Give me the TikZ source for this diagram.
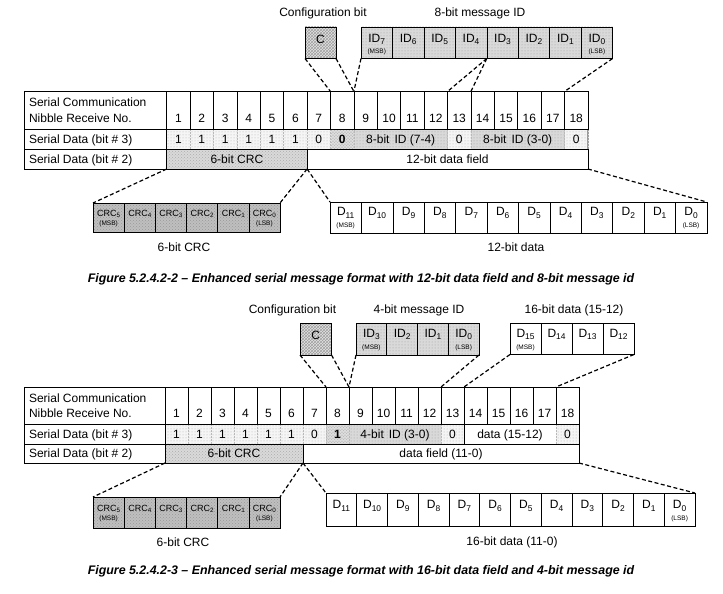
\documentclass[tikz,border=0pt]{standalone}
\usepackage{fontspec}
\setmainfont{Liberation Sans}
\usetikzlibrary{patterns}
\newcommand{\lowidx}[1]{\raisebox{-0.35ex}{\scalebox{0.7}{#1}}}
\begin{document}
\begin{tikzpicture}[x=1pt,y=-1pt,
  box/.style={draw, line width=0.6pt, inner sep=0pt, outer sep=0pt, anchor=north west},
  pbox/.style={draw=gray!55, line width=0.5pt, densely dotted, inner sep=0pt, outer sep=0pt, anchor=north west},
  lite/.style={preaction={fill=gray!8}, pattern=dots, pattern color=gray!60},
  idpat/.style={preaction={fill=gray!30}, pattern=dots, pattern color=gray!75},
  crcbox/.style={preaction={fill=gray!50}, pattern=crosshatch dots, pattern color=gray!80},
  crcrow/.style={preaction={fill=gray!30}, pattern=crosshatch dots, pattern color=gray!65},
  cpat/.style={preaction={fill=gray!22}, pattern=crosshatch, pattern color=gray!75},
  dline/.style={dash pattern=on 4pt off 2.5pt, line width=1.2pt},
  txt/.style={font=\fontsize{12}{15}\selectfont, inner sep=0pt, outer sep=0pt},
  tc/.style={text height=8.6pt, text depth=0pt},
  crct/.style={font=\fontsize{9}{10}\selectfont, inner sep=0pt},
  sm/.style={font=\fontsize{6.5}{7}\selectfont, inner sep=0pt},
  captxt/.style={font=\fontsize{12.4}{14}\selectfont\bfseries\itshape, inner sep=0pt},
]
\fill[white] (0,0) rectangle (723,594);
\useasboundingbox (0,0) rectangle (723,594);

%%%%%%%%%%%%%%%%%%%% FIGURE A %%%%%%%%%%%%%%%%%%%%
% top labels
\node[txt] (aLblC) at (323,13) {Configuration bit};
\node[txt] (aLblID) at (480,13) {8-bit message ID};
% top boxes
\node[box, cpat, minimum width=31pt, minimum height=31.5pt] (aC) at (305,27) {};
\node[txt, anchor=base] (aCt) at ([yshift=-0.3pt]aC.center) {C};
\foreach \n [count=\k from 0] in {7,6,5,4,3,2,1,0}{
  \node[box, idpat, minimum width=31.45pt, minimum height=31.5pt] (aID\n) at ({361+\k*31.45},27) {};
  \node[txt, anchor=base] (aIDt\n) at ([yshift=0.7pt]aID\n.center) {ID\lowidx{\n}};
}
\node[sm, anchor=base] (aMSBi) at ([yshift=-10.3pt]aID7.center) {(MSB)};
\node[sm, anchor=base] (aLSBi) at ([yshift=-10.3pt]aID0.center) {(LSB)};

% row 2 cells
\foreach \i/\v in {1/1,2/1,3/1,4/1,5/1,6/1,7/0}
  \node[pbox, lite, txt, tc, minimum width=23.4pt, minimum height=20pt] (aS\i) at ({166.7+(\i-1)*23.4},129.5) {\v};
\node[pbox, cpat, txt, tc, minimum width=23.4pt, minimum height=20pt] (aS8) at ({166.7+7*23.4},129.5) {\textbf{0}};
\node[pbox, idpat, txt, tc, minimum width=93.6pt, minimum height=20pt] (aS9) at ({166.7+8*23.4},129.5) {8-bit\hspace{5pt}ID (7-4)};
\node[pbox, lite, txt, tc, minimum width=23.4pt, minimum height=20pt] (aS13) at ({166.7+12*23.4},129.5) {0};
\node[pbox, idpat, txt, tc, minimum width=93.6pt, minimum height=20pt] (aS14) at ({166.7+13*23.4},129.5) {8-bit\hspace{5pt}ID (3-0)};
\node[pbox, lite, txt, tc, minimum width=23.4pt, minimum height=20pt] (aS18) at ({166.7+17*23.4},129.5) {0};
% header
\node[box, minimum width=142.7pt, minimum height=38pt] (aL1) at (24,91.5) {};
\node[box, minimum width=142.7pt, minimum height=20pt] (aL2) at (24,129.5) {};
\node[box, minimum width=142.7pt, minimum height=19.5pt] (aL3) at (24,149.5) {};
\foreach \i in {1,...,18}
  \node[box, minimum width=23.4pt, minimum height=38pt] (aH\i) at ({166.7+(\i-1)*23.4},91.5) {};
\foreach \i in {1,...,18}
  \node[txt, tc, anchor=base] (aN\i) at ([yshift=7.2pt]aH\i.south) {\i};
\node[txt, anchor=base west] (aT1) at ([xshift=5pt,yshift=-15.3pt]aL1.north west) {Serial Communication};
\node[txt, anchor=base west] (aT2) at ([xshift=5pt,yshift=7.2pt]aL1.south west) {Nibble Receive No.};
\node[txt, tc, anchor=west] (aT3) at ([xshift=5pt]aL2.west) {Serial Data (bit \# 3)};
\node[txt, tc, anchor=west] (aT4) at ([xshift=5pt]aL3.west) {Serial Data (bit \# 2)};
% row 3
\node[box, crcrow, txt, tc, minimum width=140.4pt, minimum height=19.5pt] (aR3c) at (166.7,149.5) {6-bit CRC};
\node[box, txt, tc, minimum width=280.8pt, minimum height=19.5pt] (aR3d) at ({166.7+6*23.4},149.5) {12-bit data field};
\draw[line width=0.6pt] (aH18.south east) -- (aR3d.north east);

% bottom boxes
\foreach \n [count=\k from 0] in {5,4,3,2,1,0}{
  \node[box, crcbox, minimum width=31.17pt, minimum height=29pt] (aCRC\n) at ({93+\k*31.17},203) {};
  \node[crct, anchor=base] (aCRCt\n) at ([yshift=1.3pt]aCRC\n.center) {CRC\lowidx{\n}};
}
\node[sm, anchor=base] (aMSBc) at ([yshift=-8.3pt]aCRC5.center) {(MSB)};
\node[sm, anchor=base] (aLSBc) at ([yshift=-8.3pt]aCRC0.center) {(LSB)};
\foreach \n [count=\k from 0] in {11,10,9,8,7,6,5,4,3,2,1,0}{
  \node[box, minimum width=31.4pt, minimum height=31pt] (aD\n) at ({330+\k*31.4},202) {};
  \node[txt, anchor=base] (aDt\n) at ([yshift=1.7pt]aD\n.center) {D\lowidx{\n}};
}
\node[sm, anchor=base] (aMSBd) at ([yshift=-10.3pt]aD11.center) {(MSB)};
\node[sm, anchor=base] (aLSBd) at ([yshift=-10.3pt]aD0.center) {(LSB)};
\node[txt] (aLblCRC) at (184,247) {6-bit CRC};
\node[txt] (aLblD) at (516,247) {12-bit data};
\node[captxt] (aCap) at (361,279) {Figure 5.2.4.2-2 – Enhanced serial message format with 12-bit data field and 8-bit message id};

% connectors
\draw[dline] (aC.south west) -- (aH8.north west);
\draw[dline] (aC.south east) -- (aH9.north west);
\draw[dline] (aID7.south west) -- (aH9.north west);
\draw[dline] (aID4.south east) -- (aH13.north west);
\draw[dline] (aID3.south west) -- (aH14.north west);
\draw[dline] (aID0.south east) -- (aH18.north west);
\draw[dline] (aR3c.south west) -- (aCRC5.north west);
\draw[dline] (aR3c.south east) -- (aCRC0.north east);
\draw[dline] (aR3c.south east) -- (aD11.north west);
\draw[dline] (aR3d.south east) -- (aD0.north east);

%%%%%%%%%%%%%%%%%%%% FIGURE B %%%%%%%%%%%%%%%%%%%%
\node[txt] (bLblC) at (292.5,310) {Configuration bit};
\node[txt] (bLblID) at (419,310) {4-bit message ID};
\node[txt] (bLblD) at (574,310) {16-bit data (15-12)};
\node[box, cpat, minimum width=31.5pt, minimum height=32pt] (bC) at (300,323) {};
\node[txt, anchor=base] (bCt) at ([yshift=-0.3pt]bC.center) {C};
\foreach \n [count=\k from 0] in {3,2,1,0}{
  \node[box, idpat, minimum width=30.75pt, minimum height=32pt] (bID\n) at ({356+\k*30.75},323) {};
  \node[txt, anchor=base] (bIDt\n) at ([yshift=1.7pt]bID\n.center) {ID\lowidx{\n}};
}
\node[sm, anchor=base] (bMSBi) at ([yshift=-10.3pt]bID3.center) {(MSB)};
\node[sm, anchor=base] (bLSBi) at ([yshift=-10.3pt]bID0.center) {(LSB)};
\foreach \n [count=\k from 0] in {15,14,13,12}{
  \node[box, minimum width=31pt, minimum height=31.5pt] (bD\n) at ({510+\k*31},323) {};
  \node[txt, anchor=base] (bDt\n) at ([yshift=1.2pt]bD\n.center) {D\lowidx{\n}};
}
\node[sm, anchor=base] (bMSBh) at ([yshift=-10.3pt]bD15.center) {(MSB)};

% row 2 cells
\foreach \i/\v in {1/1,2/1,3/1,4/1,5/1,6/1,7/0}
  \node[pbox, lite, txt, tc, minimum width=23pt, minimum height=19.5pt] (bS\i) at ({165+(\i-1)*23},424.5) {\v};
\node[pbox, cpat, txt, tc, minimum width=23pt, minimum height=19.5pt] (bS8) at ({165+7*23},424.5) {\textbf{1}};
\node[pbox, idpat, txt, tc, minimum width=92pt, minimum height=19.5pt] (bS9) at ({165+8*23},424.5) {4-bit\hspace{5pt}ID (3-0)};
\node[pbox, lite, txt, tc, minimum width=23pt, minimum height=19.5pt] (bS13) at ({165+12*23},424.5) {0};
\node[box, txt, tc, minimum width=92pt, minimum height=19.5pt] (bS14) at ({165+13*23},424.5) {data (15-12)};
\node[pbox, lite, txt, tc, minimum width=23pt, minimum height=19.5pt] (bS18) at ({165+17*23},424.5) {0};
% header
\node[box, minimum width=141pt, minimum height=37.5pt] (bL1) at (24,387) {};
\node[box, minimum width=141pt, minimum height=19.5pt] (bL2) at (24,424.5) {};
\node[box, minimum width=141pt, minimum height=19pt] (bL3) at (24,444) {};
\foreach \i in {1,...,18}
  \node[box, minimum width=23pt, minimum height=37.5pt] (bH\i) at ({165+(\i-1)*23},387) {};
\foreach \i in {1,...,18}
  \node[txt, tc, anchor=base] (bN\i) at ([yshift=6.9pt]bH\i.south) {\i};
\node[txt, anchor=base west] (bT1) at ([xshift=5pt,yshift=-15.3pt]bL1.north west) {Serial Communication};
\node[txt, anchor=base west] (bT2) at ([xshift=5pt,yshift=6.9pt]bL1.south west) {Nibble Receive No.};
\node[txt, tc, anchor=west] (bT3) at ([xshift=5pt]bL2.west) {Serial Data (bit \# 3)};
\node[txt, tc, anchor=west] (bT4) at ([xshift=5pt]bL3.west) {Serial Data (bit \# 2)};
% row 3
\node[box, crcrow, txt, tc, minimum width=138pt, minimum height=19pt] (bR3c) at (165,444) {6-bit CRC};
\node[box, txt, tc, minimum width=276pt, minimum height=19pt] (bR3d) at ({165+6*23},444) {data field (11-0)};
\draw[line width=0.6pt] (bH18.south east) -- (bR3d.north east);

% bottom boxes
\foreach \n [count=\k from 0] in {5,4,3,2,1,0}{
  \node[box, crcbox, minimum width=31.17pt, minimum height=31pt] (bCRC\n) at ({93+\k*31.17},497) {};
  \node[crct, anchor=base] (bCRCt\n) at ([yshift=1.3pt]bCRC\n.center) {CRC\lowidx{\n}};
}
\node[sm, anchor=base] (bMSBc) at ([yshift=-8.3pt]bCRC5.center) {(MSB)};
\node[sm, anchor=base] (bLSBc) at ([yshift=-8.3pt]bCRC0.center) {(LSB)};
\foreach \n [count=\k from 0] in {11,10,9,8,7,6,5,4,3,2,1,0}{
  \node[box, minimum width=30.75pt, minimum height=33pt] (bD\n) at ({326+\k*30.75},493) {};
  \node[txt, anchor=base] (bDt\n) at ([yshift=0.7pt]bD\n.center) {D\lowidx{\n}};
}
\node[sm, anchor=base] (bLSBd) at ([yshift=-11.3pt]bD0.center) {(LSB)};
\node[txt] (bLblCRC) at (183,542) {6-bit CRC};
\node[txt] (bLblDd) at (512,542) {16-bit data (11-0)};
\node[captxt] (bCap) at (361,571) {Figure 5.2.4.2-3 – Enhanced serial message format with 16-bit data field and 4-bit message id};

% connectors
\draw[dline] (bC.south west) -- (bH8.north west);
\draw[dline] (bC.south east) -- (bH9.north west);
\draw[dline] (bID3.south west) -- (bH9.north west);
\draw[dline] (bID0.south east) -- (bH13.north west);
\draw[dline] (bD15.south west) -- (bH14.north west);
\draw[dline] (bD12.south east) -- (bH18.north west);
\draw[dline] (bR3c.south west) -- (bCRC5.north west);
\draw[dline] (bR3c.south east) -- (bCRC0.north east);
\draw[dline] (bR3c.south east) -- (bD11.north west);
\draw[dline] (bR3d.south east) -- (bD0.north east);
\end{tikzpicture}
\end{document}
